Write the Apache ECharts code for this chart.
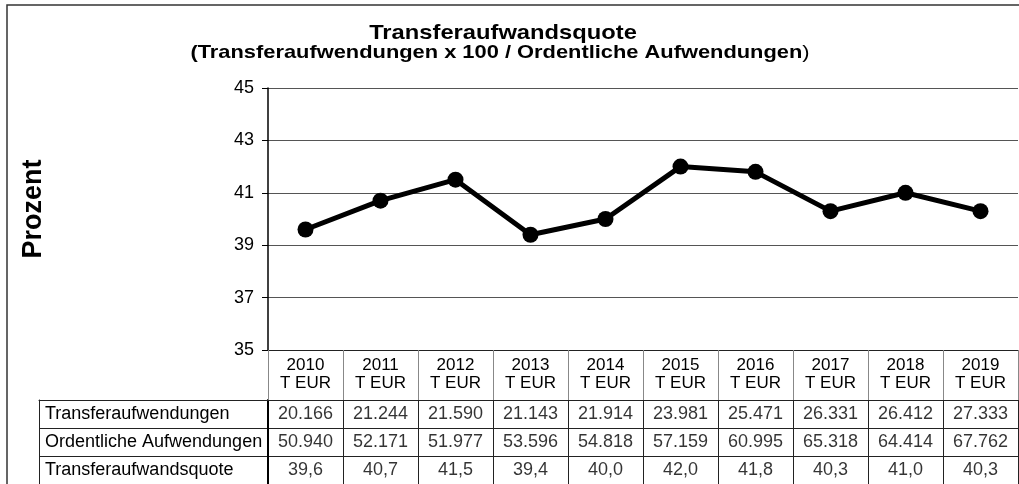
<!DOCTYPE html>
<html>
<head>
<meta charset="utf-8">
<script src="https://cdn.jsdelivr.net/npm/echarts@6/dist/echarts.min.js"></script>
<style>
  html, body { margin: 0; padding: 0; background: #fff; }
  #chart { width: 1019px; height: 484px; }
</style>
</head>
<body>
<div id="chart"></div>
<script>
// Jahre der Zeitreihe
const years = ['2010', '2011', '2012', '2013', '2014', '2015', '2016', '2017', '2018', '2019'];
// Transferaufwendungen in T EUR
const transferaufwendungen = [20166, 21244, 21590, 21143, 21914, 23981, 25471, 26331, 26412, 27333];
// Ordentliche Aufwendungen in T EUR
const ordentlicheAufwendungen = [50940, 52171, 51977, 53596, 54818, 57159, 60995, 65318, 64414, 67762];
// Transferaufwandsquote in Prozent
const quote = [39.6, 40.7, 41.5, 39.4, 40.0, 42.0, 41.8, 40.3, 41.0, 40.3];
// Zeilenbeschriftungen der Datentabelle
const rowLabels = ['Transferaufwendungen', 'Ordentliche Aufwendungen', 'Transferaufwandsquote'];
const yTicks = { min: 35, max: 45, step: 2 };

const FONT = '"Liberation Sans", Arial, Helvetica, sans-serif';
const fmtInt = v => v.toLocaleString('de-DE');
const fmtDec = v => v.toLocaleString('de-DE', { minimumFractionDigits: 1, maximumFractionDigits: 1 });
const rowText = [
  transferaufwendungen.map(fmtInt),
  ordentlicheAufwendungen.map(fmtInt),
  quote.map(fmtDec)
];

// Zellen der Tabelle: [Spalte, Zeile]
const cells = [];
rowText.forEach((row, r) => row.forEach((_, c) => cells.push([c, r])));

const chart = echarts.init(document.getElementById('chart'), null, { renderer: 'canvas' });

const TL = 268, TW = 750;
const TABLE_FS = 18;

chart.setOption({
  backgroundColor: '#fff',
  animation: false,
  textStyle: { fontFamily: FONT, color: '#000' },
  graphic: [
    {
      type: 'rect', silent: true, z: -1,
      shape: { x: 7, y: 5, width: 1030, height: 500 },
      style: { fill: 'none', stroke: '#333', lineWidth: 1.5 }
    },
    // Überschrift, leicht in die Breite gezogen
    {
      type: 'text', silent: true,
      x: 503, y: 33, scaleX: 1.13,
      style: {
        text: 'Transferaufwandsquote', font: 'bold 21px ' + FONT, fill: '#000',
        align: 'center', verticalAlign: 'middle'
      }
    },
    {
      type: 'text', silent: true,
      x: 500, y: 53, scaleX: 1.15,
      style: {
        text: '{b|(Transferaufwendungen x 100 / Ordentliche Aufwendungen}{n|)}',
        align: 'center', verticalAlign: 'middle',
        rich: {
          b: { fontFamily: FONT, fontSize: 19, fontWeight: 'bold', fill: '#000' },
          n: { fontFamily: FONT, fontSize: 19, fontWeight: 'normal', fill: '#000' }
        }
      }
    },
    {
      type: 'text', silent: true,
      x: 34, y: 209, rotation: Math.PI / 2,
      style: {
        text: 'Prozent', font: 'bold 27px ' + FONT, fill: '#000',
        align: 'center', verticalAlign: 'middle'
      }
    }
  ],
  grid: [
    { left: TL, top: 88, width: TW, height: 262 },
    { left: TL, top: 400, width: TW, height: 87 },
    { left: 39, top: 400, width: TL - 39, height: 87 }
  ],
  xAxis: [
    {
      gridIndex: 0, type: 'category', data: years, boundaryGap: true,
      axisLine: { show: true, lineStyle: { color: '#222', width: 1 } },
      axisTick: { show: true, length: 50, lineStyle: { color: '#888', width: 1 } },
      axisLabel: {
        margin: 6, fontSize: 17, lineHeight: 18, color: '#000', fontFamily: FONT,
        formatter: v => v + '\nT EUR'
      },
      splitLine: { show: false }
    },
    {
      gridIndex: 1, type: 'category', data: years, boundaryGap: true, position: 'top',
      axisLine: { show: true, lineStyle: { color: '#222', width: 1 } },
      axisTick: { show: false },
      axisLabel: { show: false },
      splitLine: { show: true, lineStyle: { color: '#222', width: 1 } }
    },
    {
      gridIndex: 2, type: 'category', data: [''], position: 'top',
      axisLine: { show: true, lineStyle: { color: '#222', width: 1 } },
      axisTick: { show: false },
      axisLabel: { show: false }
    }
  ],
  yAxis: [
    {
      gridIndex: 0, type: 'value', min: yTicks.min, max: yTicks.max, interval: yTicks.step,
      axisLine: { show: true, lineStyle: { color: '#000', width: 1.5 } },
      axisTick: { show: true, length: 6, lineStyle: { color: '#000' } },
      axisLabel: { fontSize: 18, color: '#000', margin: 14, fontFamily: FONT },
      splitLine: { show: true, lineStyle: { color: '#555', width: 1 } }
    },
    {
      gridIndex: 1, type: 'category', data: rowLabels, inverse: true,
      axisLine: { show: true, lineStyle: { color: '#000', width: 2 } },
      axisTick: { show: false },
      axisLabel: { show: false },
      splitLine: { show: true, lineStyle: { color: '#222', width: 1 } }
    },
    {
      gridIndex: 2, type: 'category', data: rowLabels, inverse: true,
      axisLine: { show: true, lineStyle: { color: '#222', width: 1 } },
      axisTick: { show: false },
      axisLabel: { inside: true, margin: 6, fontSize: TABLE_FS, color: '#000', fontFamily: FONT },
      splitLine: { show: true, lineStyle: { color: '#222', width: 1 } }
    }
  ],
  series: [
    {
      type: 'line', xAxisIndex: 0, yAxisIndex: 0,
      data: quote,
      symbol: 'circle', symbolSize: 16,
      lineStyle: { color: '#000', width: 5 },
      itemStyle: { color: '#000' },
      z: 5
    },
    {
      type: 'scatter', xAxisIndex: 1, yAxisIndex: 1,
      data: cells, symbolSize: 0,
      label: {
        show: true, position: 'inside', fontSize: TABLE_FS, color: '#000', fontFamily: FONT,
        formatter: p => rowText[p.value[1]][p.value[0]]
      }
    }
  ]
});
</script>
</body>
</html>
